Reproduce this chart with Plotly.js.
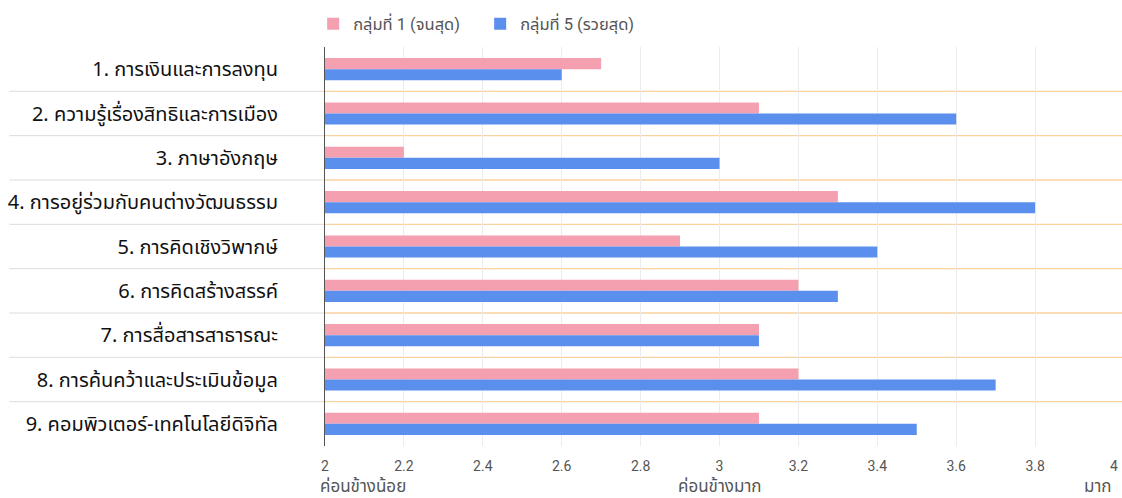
<!DOCTYPE html>
<html>
<head>
<meta charset="utf-8">
<script src="https://cdn.plot.ly/plotly-3.0.1.min.js"></script>
<style>html,body{margin:0;padding:0;background:#fff;}#chart{width:1122px;height:498px;}</style>
</head>
<body>
<div id="chart"></div>
<script>
const categories = [
  "1. การเงินและการลงทุน",
  "2. ความรู้เรื่องสิทธิและการเมือง",
  "3. ภาษาอังกฤษ",
  "4. การอยู่ร่วมกับคนต่างวัฒนธรรม",
  "5. การคิดเชิงวิพากษ์",
  "6. การคิดสร้างสรรค์",
  "7. การสื่อสารสาธารณะ",
  "8. การค้นคว้าและประเมินข้อมูล",
  "9. คอมพิวเตอร์-เทคโนโลยีดิจิทัล"
];
const group1Name = "กลุ่มที่ 1 (จนสุด)";
const group5Name = "กลุ่มที่ 5 (รวยสุด)";
const group1Values = [2.7, 3.1, 2.2, 3.3, 2.9, 3.2, 3.1, 3.2, 3.1];
const group5Values = [2.6, 3.6, 3.0, 3.8, 3.4, 3.3, 3.1, 3.7, 3.5];
const tickValues = [2, 2.2, 2.4, 2.6, 2.8, 3, 3.2, 3.4, 3.6, 3.8, 4];
const scaleLabels = [[2, "ค่อนข้างน้อย", "left", -7], [3, "ค่อนข้างมาก", "center", 0], [4, "มาก", "right", 0]];

const thaiFont = "Noto Sans Thai, Noto Sans, Roboto, sans-serif";
const uiFont = "Roboto, Noto Sans Thai, sans-serif";
const traces = [
  {type: "bar", orientation: "h", name: group1Name, y: categories, x: group1Values,
   marker: {color: "#F5A0B0"}},
  {type: "bar", orientation: "h", name: group5Name, y: categories, x: group5Values,
   marker: {color: "#5B8FEE"}}
];

const n = categories.length;
const shapes = [];
for (let i = 1; i < n; i++) {
  const yp = 1 - i / n;
  shapes.push({type: "line", xref: "paper", yref: "paper", x0: -0.4, x1: 0, y0: yp, y1: yp,
    line: {color: "#dcdcdc", width: 1}, layer: "below"});
  shapes.push({type: "line", xref: "paper", yref: "paper", x0: 0, x1: 1.02, y0: yp, y1: yp,
    line: {color: "#F9D29E", width: 1.3}, layer: "below"});
}

const annotations = scaleLabels.map(s => ({
  x: s[0], xref: "x", y: -0.1, yref: "paper", text: s[1], showarrow: false, xshift: s[3],
  xanchor: s[2], yanchor: "middle", font: {family: uiFont, size: 17, color: "#555"}
}));

const layout = {
  width: 1122, height: 498,
  margin: {l: 325, r: 8, t: 46, b: 52},
  paper_bgcolor: "#fff", plot_bgcolor: "#fff",
  barmode: "group", bargap: 0.5, bargroupgap: 0,
  showlegend: true,
  legend: {orientation: "h", x: -0.015, xanchor: "left", y: 1.055, yanchor: "middle",
    font: {family: uiFont, size: 16.5, color: "#555"}, traceorder: "normal", itemwidth: 30,
    entrywidth: 122, entrywidthmode: "pixels"},
  xaxis: {range: [2, 4], tickvals: tickValues, ticktext: tickValues.map(String),
    showgrid: true, gridcolor: "#ececec", zeroline: false, showline: false,
    ticks: "outside", ticklen: 7, tickcolor: "rgba(0,0,0,0)",
    tickfont: {family: "Roboto, sans-serif", size: 14, color: "#555"}, fixedrange: true},
  yaxis: {type: "category", range: [n - 0.5, -0.5], showgrid: false, zeroline: false,
    showline: true, linecolor: "#555", linewidth: 1,
    ticks: "outside", ticklen: 42, tickcolor: "rgba(0,0,0,0)",
    tickfont: {family: thaiFont, size: 20, color: "#111", weight: 400}},
  shapes: shapes,
  annotations: annotations
};
Plotly.newPlot("chart", traces, layout, {displayModeBar: false, staticPlot: true});
</script>
</body>
</html>
